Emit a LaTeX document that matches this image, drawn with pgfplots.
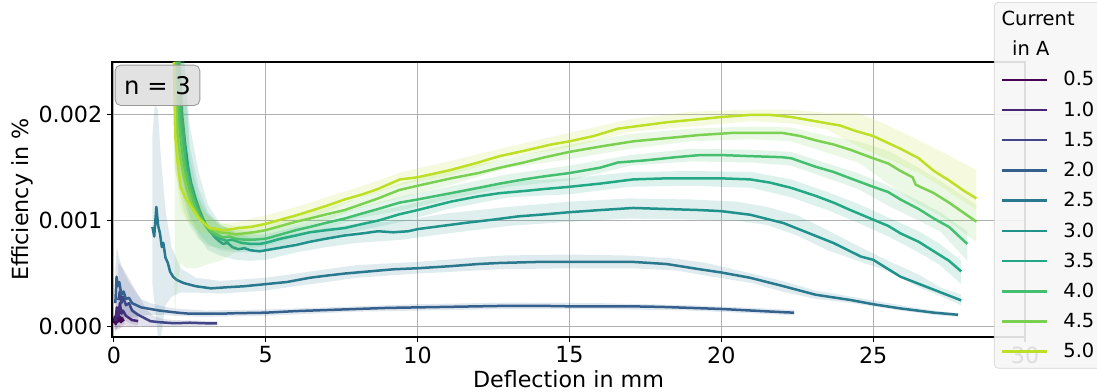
\documentclass[border=0pt]{standalone}
\usepackage{fontspec}
\setmainfont{DejaVu Sans}
\usepackage{pgfplots}
\pgfplotsset{compat=1.18}
\definecolor{c05}{HTML}{440154}
\definecolor{c10}{HTML}{482475}
\definecolor{c15}{HTML}{414487}
\definecolor{c20}{HTML}{355F8D}
\definecolor{c25}{HTML}{2A788E}
\definecolor{c30}{HTML}{21918C}
\definecolor{c35}{HTML}{22A884}
\definecolor{c40}{HTML}{44BF70}
\definecolor{c45}{HTML}{7AD151}
\definecolor{c50}{HTML}{BDDF26}
\definecolor{gridgray}{HTML}{B0B0B0}
\begin{document}
\begin{tikzpicture}
\useasboundingbox (0,0) rectangle (789.84pt,281.52pt);
\begin{axis}[
  at={(80.64pt,38.88pt)}, anchor=south west,
  scale only axis, width=657.36pt, height=198pt,
  xmin=-0.06, xmax=30, ymin=-0.1e-3, ymax=2.5e-3,
  xtick={0,5,10,15,20,25,30}, xticklabels={0,5,10,15,20,25,30},
  ytick={0,0.001,0.002}, yticklabels={0.000,0.001,0.002},
  scaled y ticks=false, scaled x ticks=false,
  tick pos=left, tick align=outside, major tick length=3.5pt,
  major tick style={black, line width=0.8pt},
  axis line style={line width=0.8pt},
  grid=major, major grid style={color=gridgray, line width=0.8pt},
  tick label style={font=\fontsize{16}{19}\selectfont},
  label style={font=\fontsize{16}{19}\selectfont},
  xlabel={Deflection in mm}, ylabel={Efficiency in \%},
  xlabel style={yshift=2pt}, ylabel style={yshift=-3pt},
  legend cell align=left,
  legend image code/.code={\draw[#1] (0pt,0pt) -- (32pt,0pt);},
  legend style={at={(0.966,1.218)}, anchor=north west, draw=gray!35, fill=gray!7,
    fill opacity=0.9, text opacity=1, draw opacity=1, rounded corners=3pt,
    font=\fontsize{14}{17}\selectfont, row sep=5.9pt, inner xsep=5pt, inner ysep=4pt,
    /tikz/every odd column/.append style={column sep=9pt}},
  every axis plot/.append style={line join=round},
]
\addlegendimage{empty legend}\addlegendentry{\hspace*{-44.5pt}Current}
\addlegendimage{empty legend}\addlegendentry{\hspace*{-44pt}in A}

% 0.5 A
\addplot[draw=none, fill=c05, fill opacity=0.15, forget plot] coordinates {
(0,0.10e-3)(0.1,0.16e-3)(0.2,0.15e-3)(0.35,0.12e-3)
(0.35,0.01e-3)(0.2,-0.02e-3)(0.1,-0.03e-3)(0,-0.02e-3)};
\addplot[c05, line width=1.8pt] coordinates {
(0.00,0.03e-3)(0.03,0.09e-3)(0.06,0.02e-3)(0.09,0.11e-3)(0.12,0.04e-3)(0.15,0.12e-3)(0.18,0.05e-3)(0.21,0.09e-3)(0.24,0.04e-3)(0.27,0.08e-3)(0.30,0.06e-3)(0.33,0.05e-3)};
\addlegendentry{0.5}

% 1.0 A
\addplot[draw=none, fill=c10, fill opacity=0.15, forget plot] coordinates {
(0.05,0.25e-3)(0.15,0.40e-3)(0.3,0.30e-3)(0.5,0.20e-3)(0.8,0.12e-3)
(0.8,0.0)(0.5,0.0)(0.3,0.02e-3)(0.15,0.0)(0.05,-0.05e-3)};
\addplot[c10, line width=1.8pt] coordinates {
(0.05,0.05e-3)(0.1,0.18e-3)(0.15,0.10e-3)(0.2,0.22e-3)(0.25,0.12e-3)(0.3,0.15e-3)(0.4,0.10e-3)(0.5,0.08e-3)(0.6,0.06e-3)(0.8,0.05e-3)};
\addlegendentry{1.0}

% 1.5 A
\addplot[draw=none, fill=c15, fill opacity=0.15, forget plot] coordinates {
(0.15,0.60e-3)(0.3,0.55e-3)(0.5,0.45e-3)(0.7,0.35e-3)(0.9,0.25e-3)(1.1,0.15e-3)(1.3,0.10e-3)(1.6,0.07e-3)(2.0,0.06e-3)(3.4,0.05e-3)
(3.4,0.01e-3)(2.0,0.0)(1.3,0.0)(1.0,0.0)(0.6,0.02e-3)(0.4,0.05e-3)(0.25,0.08e-3)(0.15,0.05e-3)};
\addplot[c15, line width=1.8pt] coordinates {
(0.15,0.25e-3)(0.2,0.33e-3)(0.25,0.22e-3)(0.3,0.28e-3)(0.4,0.20e-3)(0.5,0.22e-3)(0.6,0.15e-3)(0.8,0.11e-3)(1.0,0.08e-3)(1.2,0.05e-3)(1.5,0.04e-3)(2.0,0.03e-3)(2.5,0.035e-3)(3.0,0.03e-3)(3.4,0.03e-3)};
\addlegendentry{1.5}

% 2.0 A
\addplot[draw=none, fill=c20, fill opacity=0.15, forget plot] coordinates {
(0.05,0.55e-3)(0.1,0.75e-3)(0.2,0.62e-3)(0.35,0.50e-3)(0.5,0.42e-3)(0.7,0.33e-3)(0.9,0.26e-3)(1.2,0.22e-3)(1.6,0.19e-3)(2.0,0.17e-3)(3,0.15e-3)(5,0.16e-3)(8,0.19e-3)(10,0.21e-3)(13,0.225e-3)(16,0.22e-3)(19,0.20e-3)(21,0.175e-3)(22.4,0.155e-3)
(22.4,0.105e-3)(21,0.125e-3)(19,0.15e-3)(16,0.165e-3)(13,0.165e-3)(10,0.15e-3)(8,0.14e-3)(5,0.10e-3)(3,0.09e-3)(2,0.10e-3)(1.6,0.11e-3)(1.2,0.11e-3)(0.9,0.10e-3)(0.5,0.08e-3)(0.2,0.10e-3)(0.05,-0.05e-3)};
\addplot[c20, line width=1.8pt] coordinates {
(0.05,0.22e-3)(0.09,0.47e-3)(0.13,0.38e-3)(0.18,0.42e-3)(0.25,0.30e-3)(0.32,0.33e-3)(0.4,0.26e-3)(0.5,0.27e-3)(0.6,0.22e-3)(0.75,0.20e-3)(0.9,0.18e-3)(1.1,0.17e-3)(1.3,0.16e-3)(1.5,0.15e-3)(1.8,0.14e-3)(2.1,0.13e-3)(2.5,0.12e-3)(3.0,0.12e-3)(3.5,0.12e-3)(4.0,0.125e-3)(5.0,0.13e-3)(6.0,0.145e-3)(7.0,0.155e-3)(8.0,0.165e-3)(9.0,0.175e-3)(10.0,0.18e-3)(11,0.185e-3)(12,0.19e-3)(13,0.195e-3)(14,0.195e-3)(15,0.19e-3)(16,0.19e-3)(17,0.19e-3)(18,0.185e-3)(19,0.175e-3)(20,0.165e-3)(21,0.15e-3)(22,0.135e-3)(22.4,0.13e-3)};
\addlegendentry{2.0}

% 2.5 A
\addplot[draw=none, fill=c25, fill opacity=0.15, forget plot] coordinates {
(1.27,1.80e-3)(1.35,2.1e-3)(1.45,2.05e-3)(1.55,1.6e-3)(1.7,1.1e-3)(1.9,0.75e-3)(2.2,0.55e-3)(2.7,0.46e-3)(3.5,0.43e-3)(5,0.46e-3)(6.5,0.52e-3)(8,0.58e-3)(10,0.61e-3)(12.7,0.67e-3)(15,0.68e-3)(17,0.67e-3)(18.5,0.64e-3)(19.5,0.60e-3)(21,0.50e-3)(22,0.43e-3)(23.1,0.34e-3)(24.3,0.28e-3)(25.9,0.20e-3)(27,0.15e-3)(27.8,0.125e-3)
(27.8,0.09e-3)(27,0.11e-3)(25.9,0.15e-3)(24.3,0.22e-3)(23.1,0.26e-3)(22,0.33e-3)(21,0.41e-3)(19.5,0.48e-3)(18.5,0.53e-3)(17,0.55e-3)(15,0.55e-3)(12.7,0.54e-3)(10,0.50e-3)(8,0.46e-3)(6.5,0.40e-3)(5,0.34e-3)(3.5,0.31e-3)(2.7,0.32e-3)(2.2,0.32e-3)(1.9,0.28e-3)(1.7,0.2e-3)(1.55,-0.1e-3)(1.45,-0.1e-3)(1.35,0.2e-3)(1.27,0.4e-3)};
\addplot[c25, line width=1.8pt] coordinates {
(1.27,0.94e-3)(1.33,0.85e-3)(1.40,1.13e-3)(1.46,0.95e-3)(1.52,0.88e-3)(1.58,0.75e-3)(1.63,0.79e-3)(1.70,0.65e-3)(1.78,0.60e-3)(1.85,0.52e-3)(1.95,0.47e-3)(2.07,0.44e-3)(2.3,0.41e-3)(2.7,0.38e-3)(3.2,0.36e-3)(3.7,0.37e-3)(4.3,0.38e-3)(5.0,0.40e-3)(5.7,0.42e-3)(6.45,0.46e-3)(7.0,0.48e-3)(7.6,0.50e-3)(8.4,0.52e-3)(9.2,0.54e-3)(10.0,0.55e-3)(11.1,0.57e-3)(12.0,0.59e-3)(12.7,0.60e-3)(14,0.61e-3)(15,0.61e-3)(16,0.61e-3)(17.1,0.61e-3)(18.2,0.59e-3)(19.3,0.54e-3)(20.0,0.51e-3)(20.95,0.46e-3)(22.05,0.38e-3)(23.1,0.30e-3)(24.25,0.25e-3)(25.0,0.21e-3)(25.9,0.17e-3)(27.0,0.13e-3)(27.8,0.11e-3)};
\addlegendentry{2.5}

% 3.0 A
\addplot[draw=none, fill=c30, fill opacity=0.15, forget plot] coordinates {
(2.1,2.6e-3)(2.3,2.6e-3)(2.5,1.9e-3)(2.8,1.45e-3)(3.1,1.15e-3)(3.5,0.97e-3)(4.0,0.88e-3)(4.5,0.84e-3)(5,0.83e-3)(6,0.88e-3)(7,0.93e-3)(8,0.97e-3)(9.5,1.00e-3)(11,1.07e-3)(13,1.13e-3)(15,1.18e-3)(17,1.21e-3)(19,1.20e-3)(20.5,1.18e-3)(21.5,1.13e-3)(22.5,1.05e-3)(23.5,0.91e-3)(24.5,0.76e-3)(25.5,0.62e-3)(26.5,0.49e-3)(27.2,0.37e-3)(27.9,0.30e-3)
(27.9,0.20e-3)(27.2,0.29e-3)(26.5,0.37e-3)(25.5,0.52e-3)(24.5,0.62e-3)(23.5,0.72e-3)(22.5,0.86e-3)(21.5,0.96e-3)(20.5,1.00e-3)(19,1.01e-3)(17,1.02e-3)(15,0.99e-3)(13,0.95e-3)(11,0.88e-3)(9.5,0.82e-3)(8,0.79e-3)(7,0.75e-3)(6,0.70e-3)(5,0.63e-3)(4.5,0.62e-3)(4.0,0.63e-3)(3.5,0.67e-3)(3.1,0.72e-3)(2.8,0.85e-3)(2.5,1.0e-3)(2.3,1.2e-3)(2.1,1.5e-3)};
\addplot[c30, line width=1.8pt] coordinates {
(2.15,2.50e-3)(2.2,2.25e-3)(2.25,2.00e-3)(2.35,1.72e-3)(2.45,1.50e-3)(2.55,1.35e-3)(2.7,1.20e-3)(2.85,1.08e-3)(3.0,0.98e-3)(3.15,0.91e-3)(3.3,0.85e-3)(3.45,0.81e-3)(3.6,0.78e-3)(3.75,0.79e-3)(3.9,0.75e-3)(4.1,0.73e-3)(4.3,0.74e-3)(4.5,0.72e-3)(4.8,0.71e-3)(5.0,0.72e-3)(5.4,0.74e-3)(6.0,0.77e-3)(6.45,0.80e-3)(7.0,0.83e-3)(7.6,0.86e-3)(8.2,0.88e-3)(8.7,0.90e-3)(9.2,0.89e-3)(9.7,0.90e-3)(10.0,0.92e-3)(10.8,0.95e-3)(11.6,0.98e-3)(12.5,1.01e-3)(13.3,1.04e-3)(14.2,1.06e-3)(15.0,1.08e-3)(16.0,1.10e-3)(17.1,1.12e-3)(18.2,1.11e-3)(19.3,1.10e-3)(20.0,1.09e-3)(20.95,1.056e-3)(22.05,0.977e-3)(22.6,0.914e-3)(23.7,0.788e-3)(24.6,0.66e-3)(25.0,0.63e-3)(25.9,0.47e-3)(27.0,0.347e-3)(27.9,0.246e-3)};
\addlegendentry{3.0}

% 3.5 A
\addplot[draw=none, fill=c35, fill opacity=0.15, forget plot] coordinates {
(2.05,2.6e-3)(2.3,2.6e-3)(2.5,1.7e-3)(2.8,1.30e-3)(3.1,1.08e-3)(3.5,0.95e-3)(4,0.90e-3)(4.5,0.87e-3)(5,0.87e-3)(6,0.94e-3)(7,0.99e-3)(8,1.05e-3)(9.5,1.14e-3)(11,1.24e-3)(13,1.37e-3)(15,1.40e-3)(17,1.46e-3)(19,1.47e-3)(21,1.46e-3)(22.3,1.39e-3)(23.5,1.27e-3)(24.5,1.16e-3)(25.5,1.03e-3)(26.5,0.90e-3)(27.2,0.78e-3)(27.9,0.62e-3)
(27.9,0.40e-3)(27.2,0.58e-3)(26.5,0.70e-3)(25.5,0.85e-3)(24.5,0.98e-3)(23.5,1.10e-3)(22.3,1.22e-3)(21,1.31e-3)(19,1.33e-3)(17,1.32e-3)(15,1.25e-3)(13,1.22e-3)(11,1.11e-3)(9.5,0.99e-3)(8,0.90e-3)(7,0.84e-3)(6,0.79e-3)(5,0.71e-3)(4.5,0.70e-3)(4,0.70e-3)(3.5,0.72e-3)(3.1,0.78e-3)(2.8,0.88e-3)(2.5,1.05e-3)(2.3,1.3e-3)(2.05,1.7e-3)};
\addplot[c35, line width=1.8pt] coordinates {
(2.1,2.50e-3)(2.15,2.20e-3)(2.2,1.95e-3)(2.3,1.70e-3)(2.4,1.50e-3)(2.55,1.30e-3)(2.7,1.15e-3)(2.85,1.04e-3)(3.0,0.96e-3)(3.15,0.90e-3)(3.3,0.86e-3)(3.5,0.83e-3)(3.7,0.81e-3)(3.9,0.82e-3)(4.2,0.79e-3)(4.5,0.78e-3)(4.8,0.78e-3)(5.0,0.79e-3)(5.5,0.83e-3)(6.0,0.86e-3)(6.45,0.89e-3)(7.0,0.91e-3)(7.6,0.93e-3)(8.2,0.97e-3)(8.7,1.00e-3)(9.4,1.06e-3)(10.0,1.10e-3)(11.1,1.18e-3)(12.0,1.23e-3)(12.7,1.26e-3)(13.5,1.28e-3)(14.2,1.30e-3)(15.0,1.32e-3)(16.0,1.35e-3)(17.1,1.39e-3)(18.2,1.40e-3)(19.3,1.40e-3)(20.0,1.40e-3)(20.95,1.39e-3)(21.6,1.36e-3)(22.3,1.31e-3)(23.1,1.235e-3)(23.7,1.17e-3)(24.25,1.10e-3)(25.0,1.01e-3)(25.5,0.95e-3)(25.9,0.88e-3)(26.5,0.80e-3)(27.0,0.71e-3)(27.5,0.62e-3)(27.9,0.52e-3)};
\addlegendentry{3.5}

% 4.0 A
\addplot[draw=none, fill=c40, fill opacity=0.15, forget plot] coordinates {
(2.0,2.6e-3)(2.3,2.6e-3)(2.5,1.6e-3)(2.8,1.22e-3)(3.1,1.05e-3)(3.5,0.95e-3)(4,0.92e-3)(4.5,0.90e-3)(5,0.90e-3)(6,0.97e-3)(7,1.04e-3)(8,1.12e-3)(9.5,1.23e-3)(11,1.32e-3)(13,1.44e-3)(15,1.52e-3)(17,1.62e-3)(19,1.68e-3)(21,1.67e-3)(22.3,1.65e-3)(23.5,1.54e-3)(24.5,1.45e-3)(25.5,1.33e-3)(26.5,1.19e-3)(27.2,1.08e-3)(28.1,0.90e-3)
(28.1,0.62e-3)(27.2,0.90e-3)(26.5,1.00e-3)(25.5,1.14e-3)(24.5,1.30e-3)(23.5,1.40e-3)(22.3,1.52e-3)(21,1.55e-3)(19,1.56e-3)(17,1.52e-3)(15,1.38e-3)(13,1.32e-3)(11,1.20e-3)(9.5,1.10e-3)(8,1.02e-3)(7,0.92e-3)(6,0.85e-3)(5,0.76e-3)(4.5,0.74e-3)(4,0.72e-3)(3.5,0.74e-3)(3.1,0.76e-3)(2.8,0.82e-3)(2.5,0.95e-3)(2.3,1.1e-3)(2.0,1.5e-3)};
\addplot[c40, line width=1.8pt] coordinates {
(2.05,2.50e-3)(2.1,2.15e-3)(2.15,1.90e-3)(2.25,1.65e-3)(2.35,1.45e-3)(2.5,1.28e-3)(2.65,1.15e-3)(2.8,1.05e-3)(3.0,0.96e-3)(3.2,0.90e-3)(3.4,0.87e-3)(3.6,0.84e-3)(3.8,0.85e-3)(4.0,0.83e-3)(4.3,0.82e-3)(4.6,0.82e-3)(5.0,0.83e-3)(5.5,0.87e-3)(6.0,0.91e-3)(6.45,0.94e-3)(7.0,0.98e-3)(7.6,1.02e-3)(8.2,1.07e-3)(8.7,1.11e-3)(9.4,1.17e-3)(10.0,1.20e-3)(11.1,1.26e-3)(12.0,1.31e-3)(12.7,1.35e-3)(13.5,1.39e-3)(14.2,1.42e-3)(15.0,1.45e-3)(16.0,1.50e-3)(16.6,1.55e-3)(17.5,1.57e-3)(18.5,1.60e-3)(19.3,1.62e-3)(20.0,1.62e-3)(20.95,1.61e-3)(22.0,1.60e-3)(22.3,1.59e-3)(22.7,1.55e-3)(23.1,1.51e-3)(23.7,1.46e-3)(24.25,1.40e-3)(25.0,1.32e-3)(25.5,1.27e-3)(25.9,1.20e-3)(26.5,1.11e-3)(27.0,1.02e-3)(27.5,0.94e-3)(28.1,0.78e-3)};
\addlegendentry{4.0}

% 4.5 A
\addplot[draw=none, fill=c45, fill opacity=0.15, forget plot] coordinates {
(2.0,2.6e-3)(2.2,2.6e-3)(2.4,1.6e-3)(2.7,1.25e-3)(3.0,1.08e-3)(3.5,0.98e-3)(4,0.95e-3)(4.5,0.96e-3)(5,0.97e-3)(6,1.05e-3)(7,1.12e-3)(8,1.21e-3)(9.5,1.36e-3)(11,1.47e-3)(13,1.59e-3)(15,1.72e-3)(17,1.82e-3)(19,1.87e-3)(21,1.89e-3)(22.3,1.88e-3)(23.5,1.80e-3)(24.5,1.75e-3)(25.5,1.66e-3)(26.5,1.50e-3)(27.2,1.38e-3)(28.4,1.15e-3)
(28.4,0.80e-3)(27.2,1.05e-3)(26.5,1.15e-3)(25.5,1.35e-3)(24.5,1.55e-3)(23.5,1.64e-3)(22.3,1.75e-3)(21,1.77e-3)(19,1.75e-3)(17,1.68e-3)(15,1.58e-3)(13,1.50e-3)(11,1.33e-3)(9.5,1.22e-3)(8,1.11e-3)(7,1.00e-3)(6,0.93e-3)(5,0.85e-3)(4.5,0.80e-3)(4,0.70e-3)(3.5,0.62e-3)(3.0,0.58e-3)(2.7,0.55e-3)(2.4,0.55e-3)(2.2,0.60e-3)(2.05,0.3e-3)(2.0,-0.1e-3)};
\addplot[c45, line width=1.8pt] coordinates {
(2.0,2.45e-3)(2.05,2.10e-3)(2.1,1.80e-3)(2.2,1.58e-3)(2.3,1.42e-3)(2.45,1.25e-3)(2.6,1.13e-3)(2.8,1.03e-3)(3.0,0.96e-3)(3.2,0.92e-3)(3.5,0.89e-3)(3.8,0.88e-3)(4.0,0.87e-3)(4.3,0.88e-3)(4.6,0.89e-3)(5.0,0.91e-3)(5.5,0.95e-3)(6.0,0.99e-3)(6.45,1.02e-3)(7.0,1.06e-3)(7.6,1.10e-3)(8.2,1.16e-3)(8.7,1.21e-3)(9.4,1.29e-3)(10.0,1.33e-3)(11.1,1.40e-3)(12.0,1.45e-3)(12.7,1.50e-3)(13.5,1.55e-3)(14.2,1.60e-3)(15.0,1.65e-3)(16.0,1.70e-3)(17.1,1.75e-3)(18.2,1.78e-3)(19.3,1.81e-3)(20.4,1.83e-3)(21.5,1.83e-3)(22.0,1.83e-3)(22.6,1.80e-3)(23.1,1.76e-3)(23.7,1.72e-3)(24.25,1.67e-3)(25.0,1.59e-3)(25.5,1.54e-3)(25.9,1.47e-3)(26.3,1.41e-3)(26.4,1.34e-3)(27.0,1.26e-3)(27.5,1.17e-3)(28.0,1.07e-3)(28.4,0.99e-3)};
\addlegendentry{4.5}

% 5.0 A
\addplot[draw=none, fill=c50, fill opacity=0.15, forget plot] coordinates {
(1.98,2.6e-3)(2.2,2.6e-3)(2.4,1.5e-3)(2.7,1.20e-3)(3.0,1.05e-3)(3.5,0.97e-3)(4,0.98e-3)(4.5,1.02e-3)(5,1.05e-3)(6,1.13e-3)(7,1.22e-3)(8,1.31e-3)(9.5,1.46e-3)(11,1.56e-3)(13,1.70e-3)(15,1.83e-3)(17,1.96e-3)(19,2.03e-3)(21,2.05e-3)(22.3,2.05e-3)(23.5,2.02e-3)(24.5,2.02e-3)(25.5,1.90e-3)(26.5,1.76e-3)(27.2,1.66e-3)(28.4,1.48e-3)
(28.4,1.10e-3)(27.2,1.33e-3)(26.5,1.45e-3)(25.5,1.58e-3)(24.5,1.70e-3)(23.5,1.86e-3)(22.3,1.92e-3)(21,1.94e-3)(19,1.89e-3)(17,1.84e-3)(15,1.69e-3)(13,1.60e-3)(11,1.42e-3)(9.5,1.34e-3)(8,1.21e-3)(7,1.08e-3)(6,0.98e-3)(5,0.90e-3)(4.5,0.86e-3)(4,0.84e-3)(3.5,0.84e-3)(3.0,0.88e-3)(2.7,0.92e-3)(2.4,1.0e-3)(2.2,1.1e-3)(1.98,1.6e-3)};
\addplot[c50, line width=1.8pt] coordinates {
(1.98,2.50e-3)(2.0,2.15e-3)(2.02,1.80e-3)(2.1,1.55e-3)(2.2,1.32e-3)(2.35,1.22e-3)(2.5,1.15e-3)(2.8,1.02e-3)(3.16,0.93e-3)(3.4,0.92e-3)(3.6,0.91e-3)(3.9,0.92e-3)(4.1,0.93e-3)(4.5,0.94e-3)(5.0,0.97e-3)(5.5,1.01e-3)(6.0,1.05e-3)(6.45,1.09e-3)(7.0,1.14e-3)(7.6,1.20e-3)(8.2,1.25e-3)(8.7,1.30e-3)(9.42,1.39e-3)(10.0,1.41e-3)(11.1,1.48e-3)(12.0,1.55e-3)(12.7,1.61e-3)(13.5,1.66e-3)(14.4,1.72e-3)(15.0,1.75e-3)(15.8,1.80e-3)(16.6,1.87e-3)(17.4,1.90e-3)(18.2,1.93e-3)(19.3,1.96e-3)(20.0,1.98e-3)(20.95,2.00e-3)(21.6,2.00e-3)(22.3,1.98e-3)(23.1,1.94e-3)(23.9,1.90e-3)(24.4,1.85e-3)(25.0,1.80e-3)(25.9,1.68e-3)(26.5,1.59e-3)(27.0,1.47e-3)(27.5,1.38e-3)(28.0,1.28e-3)(28.4,1.21e-3)};
\addlegendentry{5.0}

\node[anchor=north west, fill=gray!28, fill opacity=0.8, text opacity=1, draw=gray!80, line width=0.6pt, rounded corners=4pt, minimum width=61pt, minimum height=29pt, inner sep=0pt, font=\fontsize{17.5}{20}\selectfont] at (rel axis cs:0.003,0.99) {n = 3};
\end{axis}
\end{tikzpicture}
\end{document}
